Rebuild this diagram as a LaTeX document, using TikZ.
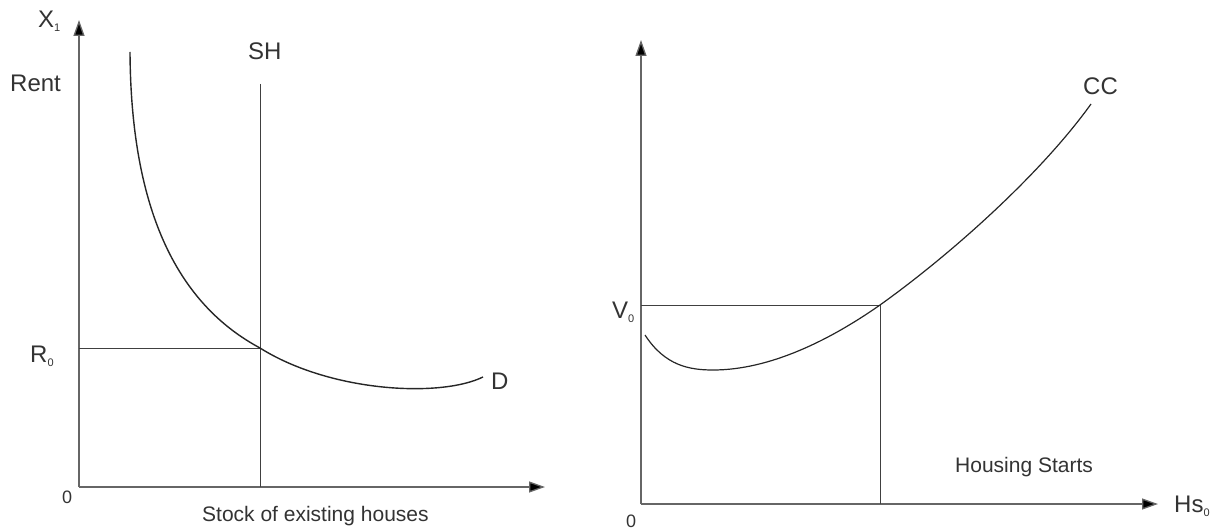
\documentclass[tikz,border=0pt]{standalone}
\usepackage{fontspec}
\setmainfont{Liberation Sans}
\usetikzlibrary{arrows.meta}
\newcommand{\lowsub}[1]{\raisebox{-4pt}{\fontsize{11}{11}\selectfont #1}}
\begin{document}
\begin{tikzpicture}[x=1pt,y=-1pt,
  axis/.style={draw=black!60, line width=1.3pt, -{Triangle[length=16pt,width=11pt,fill=black]}},
  guide/.style={draw=black!75, line width=1pt},
  curve/.style={draw=black!85, line width=1.4pt},
  lbl/.style={text=black!80, font=\fontsize{24}{26}\selectfont, inner sep=0pt, anchor=base west},
  small/.style={text=black!80, font=\fontsize{21}{23}\selectfont, inner sep=0pt, anchor=base west},
  zero/.style={text=black!80, font=\fontsize{18}{20}\selectfont, inner sep=0pt, anchor=base west}]
\useasboundingbox (0,0) rectangle (1225,529);
% left panel
\coordinate (O1) at (79,487);
\coordinate (Y1) at (79,20);
\coordinate (X1) at (545,487);
\draw[axis] (O1) -- (Y1);
\draw[axis] (O1) -- (X1);
\coordinate (R0) at (79,348);
\coordinate (E1) at (260,348);
\coordinate (SHt) at (260,84);
\coordinate (SHb) at (260,487);
\coordinate (Dst) at (130,52);
\coordinate (Den) at (483,377);
\draw[guide] (R0) -- (E1);
\draw[guide] (SHt) -- (SHb);
\draw[curve] (Dst) .. controls (131,215) and (180,305) .. (E1)
  .. controls (330,392) and (440,398) .. (Den);
\node[lbl] (x1lbl) at (38,28) {X\lowsub{1}};
\node[lbl] (rent) at (10,92) {Rent};
\node[lbl] (r0lbl) at (30,362) {R\lowsub{0}};
\node[zero] (o1lbl) at (62,503) {0};
\node[lbl] (shlbl) at (248,60) {SH};
\node[lbl] (dlbl) at (491,389) {D};
\node[small] (stock) at (202,521) {Stock of existing houses};
% right panel
\coordinate (O2) at (641,504);
\coordinate (Y2) at (641,40);
\coordinate (X2) at (1158,504);
\draw[axis] (O2) -- (Y2);
\draw[axis] (O2) -- (X2);
\coordinate (V0) at (641,305);
\coordinate (E2) at (880,305);
\coordinate (E2b) at (880,504);
\coordinate (Cst) at (645,335);
\coordinate (Cmin) at (713,370);
\coordinate (Cen) at (1091,104);
\draw[guide] (V0) -- (E2);
\draw[guide] (E2) -- (E2b);
\draw[curve, line width=1.2pt] (Cst) .. controls (665,366) and (690,370) .. (Cmin)
  .. controls (770,370) and (830,340) .. (E2)
  .. controls (950,255) and (1040,175) .. (Cen);
\node[lbl] (v0lbl) at (612,318) {V\lowsub{0}};
\node[zero] (o2lbl) at (626,527) {0};
\node[lbl] (hslbl) at (1174,512) {Hs\lowsub{0}};
\node[lbl] (cclbl) at (1083,95) {CC};
\node[small] (hstarts) at (955,472) {Housing Starts};
\end{tikzpicture}
\end{document}
